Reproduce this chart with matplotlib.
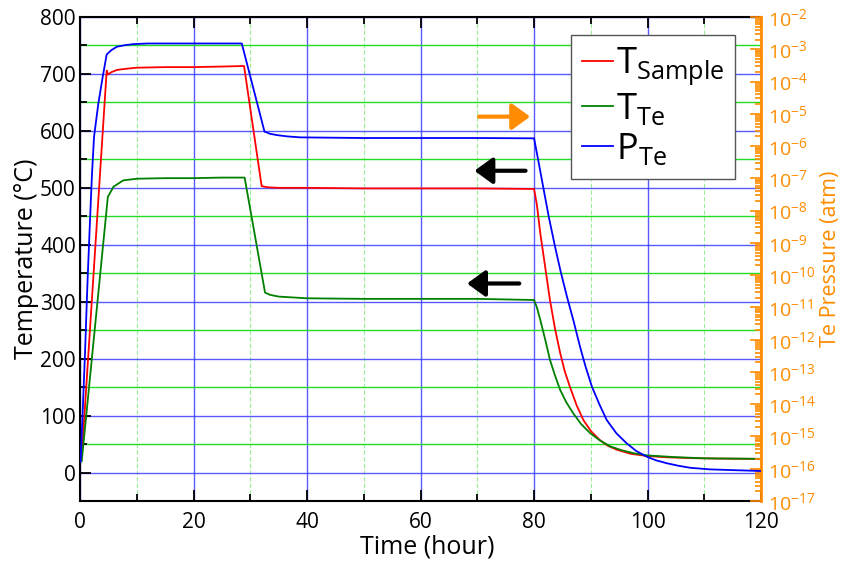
import matplotlib
matplotlib.use("Agg")
import matplotlib.pyplot as plt
from matplotlib.ticker import MultipleLocator, LogLocator, NullFormatter
from matplotlib.lines import Line2D

plt.rcParams["font.family"] = ["Open Sans", "DejaVu Sans"]
plt.rcParams["mathtext.fontset"] = "custom"
plt.rcParams["mathtext.rm"] = "Open Sans"
plt.rcParams["mathtext.it"] = "Open Sans:italic"
plt.rcParams["mathtext.bf"] = "Open Sans:bold"

# Sample temperature (°C) vs time (hour)
time_sample = [0.3, 4.7, 4.9, 5.5, 6.5, 8.0, 10, 15, 20, 25, 28.9, 32.0, 33, 35, 40, 50, 60, 70,
               80.0, 80.5, 81.1, 82.0, 82.8, 83.7, 84.6, 85.4, 86.3, 87.5, 88.7, 90.0, 91.6, 93.0,
               94.6, 97.0, 99.9, 103, 107, 112, 120]
temp_sample = [27, 706, 699, 703, 707, 709, 711, 712, 712, 713, 714, 503, 501, 500, 500, 499, 499, 499,
               498, 470, 420, 358, 303, 252, 210, 178, 151, 118, 92, 73, 57, 47,
               40, 33, 29, 27, 25.5, 24.5, 24]

# Te source temperature (°C) vs time (hour)
time_te = [0.3, 4.9, 5.9, 7.6, 10, 15, 20, 25, 29.0, 32.6, 33.5, 35, 40, 50, 60, 70,
           80.0, 80.5, 81.1, 82.0, 82.8, 83.7, 84.6, 85.7, 86.9, 88.3, 89.9, 91.5, 93.4, 95.5,
           97.5, 100, 105, 110, 120]
temp_te = [20, 484, 502, 513, 516, 517, 517, 518, 518, 316, 312, 309, 306, 305, 305, 305,
           303, 290, 268, 232, 198, 170, 145, 123, 104, 85, 69, 57, 46, 39,
           34, 30, 27, 25, 24]

# Te vapour pressure, log10 of atm, vs time (hour)
time_p = [0.1, 0.5, 0.88, 1.3, 1.76, 2.1, 2.47, 3.23, 4.0, 4.7, 5.5, 6.5, 8.0, 9.4, 12, 20, 28.5,
          32.5, 33.5, 34.7, 36.5, 38.8, 50, 60, 70, 80.0,
          80.8, 81.6, 82.6, 83.7, 84.7, 85.8, 87.0, 88.1, 89.1, 90.2, 91.5, 92.8, 94.5, 96.3, 98.0,
          99.9, 101.5, 103.4, 105.5, 107.5, 111, 114.5, 120]
log_pressure_te = [-15.78, -14.1, -12.41, -10.3, -8.29, -6.9, -5.71, -4.68, -3.85, -3.16, -3.03, -2.92,
                   -2.87, -2.84, -2.82, -2.82, -2.82,
                   -5.55, -5.62, -5.66, -5.70, -5.73, -5.75, -5.75, -5.75, -5.76,
                   -6.5, -7.26, -8.2, -9.12, -9.9, -10.67, -11.45, -12.22, -12.85, -13.46, -14.0,
                   -14.49, -14.9, -15.21, -15.45,
                   -15.63, -15.74, -15.83, -15.91, -15.97, -16.02, -16.04, -16.07]
pressure_te = [10.0 ** v for v in log_pressure_te]

legend_labels = [r"$\mathrm{T_{Sample}}$", r"$\mathrm{T_{Te}}$", r"$\mathrm{P_{Te}}$"]

orange = "#ff8c00"
c_red, c_green, c_blue = "#ff0000", "#008000", "#0000ff"

fig = plt.figure(figsize=(8.45, 5.69), dpi=100)
ax = fig.add_axes([0.0947, 0.1195, 0.806, 0.8506])

# grid: blue major lines, green minor lines
ax.set_xlim(0, 120)
ax.set_ylim(-50, 800)
ax.xaxis.set_major_locator(MultipleLocator(20))
ax.xaxis.set_minor_locator(MultipleLocator(10))
ax.yaxis.set_major_locator(MultipleLocator(100))
ax.yaxis.set_minor_locator(MultipleLocator(50))
ax.grid(which="major", axis="both", color="#3c3cff", lw=1.0, alpha=0.85)
ax.grid(which="minor", axis="y", color="#22dd22", lw=1.0)
ax.grid(which="minor", axis="x", color="#99ee99", lw=0.8, ls=(0, (4, 2)))
ax.set_axisbelow(True)

ax.plot(time_sample, temp_sample, color=c_red, lw=1.3, zorder=3)
ax.plot(time_te, temp_te, color=c_green, lw=1.3, zorder=3)

ax.tick_params(which="both", direction="in", top=True, right=False, labelsize=15, width=1.3)
ax.tick_params(axis="x", which="major", pad=8)
ax.tick_params(axis="y", which="major", pad=3)
ax.tick_params(which="major", length=8)
ax.tick_params(which="minor", length=5)
for s in ["left", "bottom", "top"]:
    ax.spines[s].set_linewidth(1.5)
ax.spines["right"].set_visible(False)
ax.set_xlabel("Time (hour)", fontsize=18)
ax.xaxis.set_label_coords(0.51, -0.07)
ax.set_ylabel("Temperature (°C)", fontsize=18)
ax.yaxis.set_label_coords(-0.06, 0.5)

# pressure on a log-scaled right axis
ax2 = ax.twinx()
ax2.set_yscale("log")
ax2.set_ylim(1e-17, 1e-2)
ax2.plot(time_p, pressure_te, color=c_blue, lw=1.3, zorder=3)
ax2.yaxis.set_major_locator(LogLocator(base=10, numticks=30))
ax2.yaxis.set_minor_locator(LogLocator(base=10, subs=range(2, 10), numticks=30))
ax2.yaxis.set_minor_formatter(NullFormatter())
ax2.tick_params(axis="y", which="both", direction="in", colors=orange, labelsize=14, width=1.2, pad=5)
ax2.tick_params(axis="y", which="major", length=8)
ax2.tick_params(axis="y", which="minor", length=4)
for s in ["left", "bottom", "top"]:
    ax2.spines[s].set_visible(False)
ax2.spines["right"].set_color(orange)
ax2.spines["right"].set_linewidth(2)
ax2.set_ylabel("Te Pressure (atm)", fontsize=15.5, color=orange)
ax2.yaxis.set_label_coords(1.087, 0.5)

# arrows pointing to the axis each curve belongs to
arrow_specs = [((79.3, 625), (70.3, 625), orange),
               ((69.5, 530), (78.5, 530), "black"),
               ((68.2, 332), (77.4, 332), "black")]
for tip, tail, col in arrow_specs:
    ax.annotate("", xy=tip, xytext=tail, zorder=5,
                arrowprops=dict(arrowstyle="-|>,head_length=0.55,head_width=0.4",
                                lw=3.0, color=col, mutation_scale=20,
                                shrinkA=0, shrinkB=0))

handles = [Line2D([], [], color=c, lw=1.3) for c in (c_red, c_green, c_blue)]
leg = ax2.legend(handles, legend_labels, loc="upper right", bbox_to_anchor=(0.962, 0.963),
                 borderaxespad=0, fontsize=26, handlelength=0.85, handletextpad=0.1,
                 labelspacing=0.12, borderpad=0.3, fancybox=False, framealpha=1,
                 edgecolor="#555555")
leg.get_frame().set_linewidth(1.0)

fig.savefig("out.png", dpi=100)
